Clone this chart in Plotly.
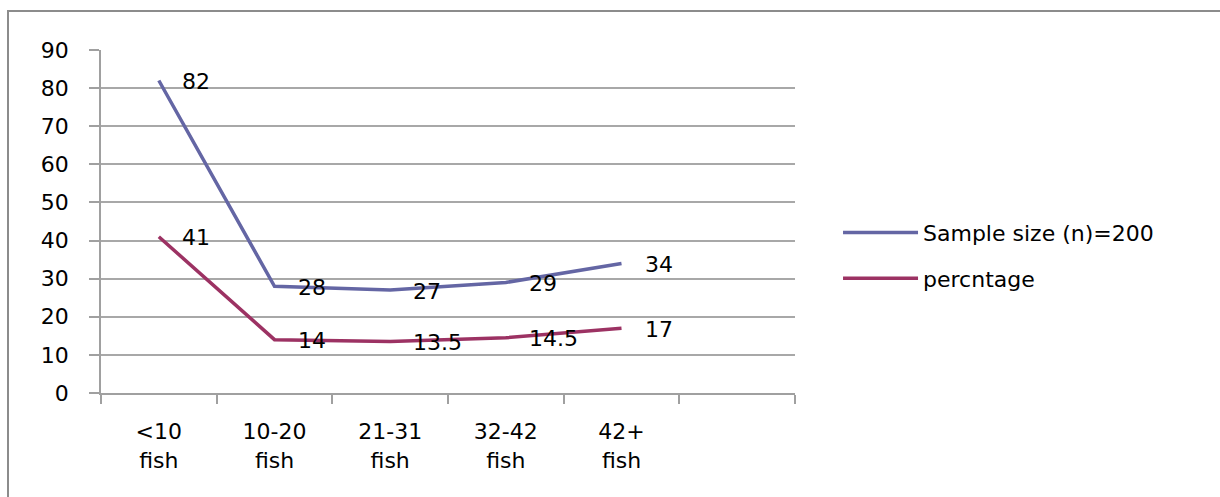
import plotly.graph_objects as go

# Fish-count groups (category axis has one extra empty slot on the right)
categories = ["<10<br>fish", "10-20<br>fish", "21-31<br>fish", "32-42<br>fish", "42+<br>fish"]
sample_size = [82, 28, 27, 29, 34]
percentage = [41, 14, 13.5, 14.5, 17]
y_ticks = [0, 10, 20, 30, 40, 50, 60, 70, 80, 90]

series = [
    ("Sample size (n)=200", sample_size, "#6466A4"),
    ("percntage", percentage, "#9C3263"),
]

FONT = "DejaVu Sans"
FS = 22
x_idx = list(range(len(categories)))

fig = go.Figure()
for name, vals, color in series:
    fig.add_trace(go.Scatter(
        x=x_idx, y=vals, name=name, mode="lines",
        line=dict(color=color, width=3.5),
        legendgroup=name,
    ))
    # value labels placed to the right of each point
    for xi, v in zip(x_idx, vals):
        fig.add_annotation(
            x=xi, y=v, text=f"{v:g}", showarrow=False,
            xanchor="left", yanchor="middle", xshift=21, yshift=-1,
            font=dict(family=FONT, size=FS, color="#000000"),
        )

# outer chart-area border (only top and left edges fall inside the page)
fig.add_shape(
    type="rect", xref="paper", yref="paper",
    x0=-0.134, y0=-0.6, x1=1.8, y1=1.1137,
    line=dict(color="#8C8C8C", width=2), fillcolor="rgba(0,0,0,0)", layer="below",
)

fig.update_layout(
    width=1220, height=497,
    margin=dict(l=101, r=425, t=50, b=104),
    paper_bgcolor="white", plot_bgcolor="white",
    font=dict(family=FONT, size=FS, color="#000000"),
    showlegend=True,
    legend=dict(
        x=1.062, y=0.40, xanchor="left", yanchor="middle",
        traceorder="grouped", tracegroupgap=14, itemwidth=75,
        font=dict(family=FONT, size=FS, color="#000000"),
        bgcolor="rgba(0,0,0,0)",
    ),
    xaxis=dict(
        range=[-0.5, 5.5], tickmode="array", tickvals=x_idx, ticktext=categories,
        ticks="", showgrid=False, zeroline=False,
        showline=True, linecolor="#A0A0A0", linewidth=1.5,
        ticklabelstandoff=18,
        tickfont=dict(family=FONT, size=FS, color="#000000"),
        minor=dict(tickvals=[i - 0.5 for i in range(7)], ticks="outside",
                   ticklen=9, tickcolor="#A0A0A0", tickwidth=1.5, showgrid=False),
        fixedrange=True,
    ),
    yaxis=dict(
        range=[0, 90], tickmode="array", tickvals=y_ticks,
        ticks="outside", ticklen=10, tickcolor="#A0A0A0", tickwidth=1.5,
        showgrid=True, gridcolor="#A8A8A8", gridwidth=1.5,
        zeroline=False, showline=True, linecolor="#A0A0A0", linewidth=1.5,
        ticklabelstandoff=16,
        tickfont=dict(family=FONT, size=FS, color="#000000"),
        fixedrange=True,
    ),
)

fig.write_html("out.html")
